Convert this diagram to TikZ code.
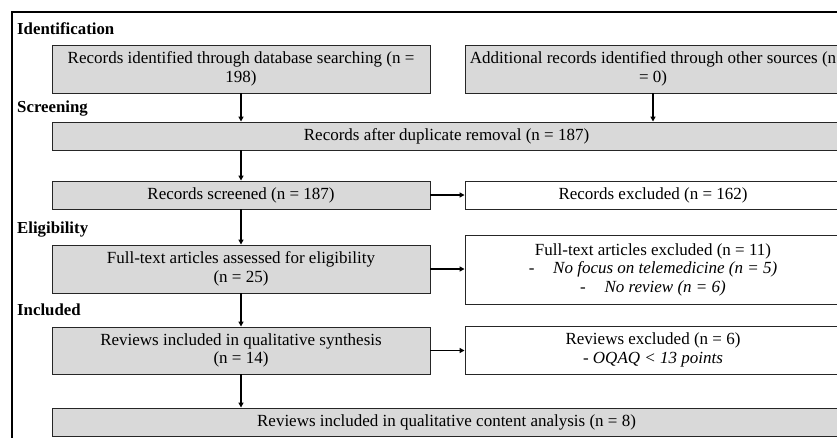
\documentclass[tikz,border=0pt]{standalone}
\usepackage{fontspec}
\setmainfont{Liberation Serif}
\usetikzlibrary{arrows.meta}

\begin{document}
\begin{tikzpicture}[x=1pt,y=-1pt,>={Triangle[length=5pt,width=5pt]},
  box/.style={draw=black!85,line width=0.9pt,align=center,inner sep=2pt,
    font=\fontsize{17}{18.5}\selectfont},
  graybox/.style={box,fill=black!15},
  whitebox/.style={box,fill=white},
  stage/.style={anchor=base west,inner sep=0pt,font=\fontsize{16.8}{19}\selectfont\bfseries},
  arr/.style={->,line width=1.3pt}]
\useasboundingbox (0,0) rectangle (837,437);
\clip (0,0) rectangle (837,437);
% outer frame
\draw[line width=1.8pt] (12,460) -- (12,12) -- (860,12);
% stage labels
\node[stage] (lid) at (17,34) {Identification};
\node[stage] (lscr) at (17,112) {Screening};
\node[stage] (lelig) at (17,233) {Eligibility};
\node[stage] (linc) at (17,315) {Included};
% left column
\node[graybox,minimum width=378pt,minimum height=48pt] (db) at (241,69)
  {Records identified through database searching (n =\\198)};
\node[graybox,minimum width=789pt,minimum height=28pt] (dup) at (446.5,136)
  {Records after duplicate removal (n = 187)};
\node[graybox,minimum width=378pt,minimum height=28pt] (screen) at (241,195)
  {Records screened (n = 187)};
\node[graybox,minimum width=378pt,minimum height=48pt] (full) at (241,269)
  {Full-text articles assessed for eligibility\\(n = 25)};
\node[graybox,minimum width=378pt,minimum height=47pt] (synth) at (241,350.5)
  {Reviews included in qualitative synthesis\\(n = 14)};
\node[graybox,minimum width=789pt,minimum height=28pt] (final) at (446.5,422)
  {Reviews included in qualitative content analysis (n = 8)};
% right column
\node[graybox,minimum width=376pt,minimum height=48pt] (other) at (653,69)
  {Additional records identified through other sources (n\\= 0)};
\node[whitebox,minimum width=376pt,minimum height=28pt] (excl) at (653,195)
  {Records excluded (n = 162)};
\node[whitebox,minimum width=376pt,minimum height=69pt] (ftex) at (653,269.5)
  {Full-text articles excluded (n = 11)\\
   -\hspace{1.1em}\textit{No focus on telemedicine (n = 5)}\\
   -\hspace{1.1em}\textit{No review (n = 6)}};
\node[whitebox,minimum width=376pt,minimum height=48pt] (revex) at (653,350)
  {Reviews excluded (n = 6)\\\textit{- OQAQ < 13 points}};
% connectors
\draw[arr] (db) -- (db |- dup.north);
\draw[arr] (other) -- (other |- dup.north);
\draw[arr] (dup.south -| screen) -- (screen);
\draw[arr] (screen) -- (excl);
\draw[arr] (screen) -- (full);
\draw[arr] (full.east) -- (full.east -| ftex.west);
\draw[arr] (full) -- (synth);
\draw[arr] (synth.east) -- (synth.east -| revex.west);
\draw[arr] (synth) -- (synth |- final.north);
\end{tikzpicture}
\end{document}
